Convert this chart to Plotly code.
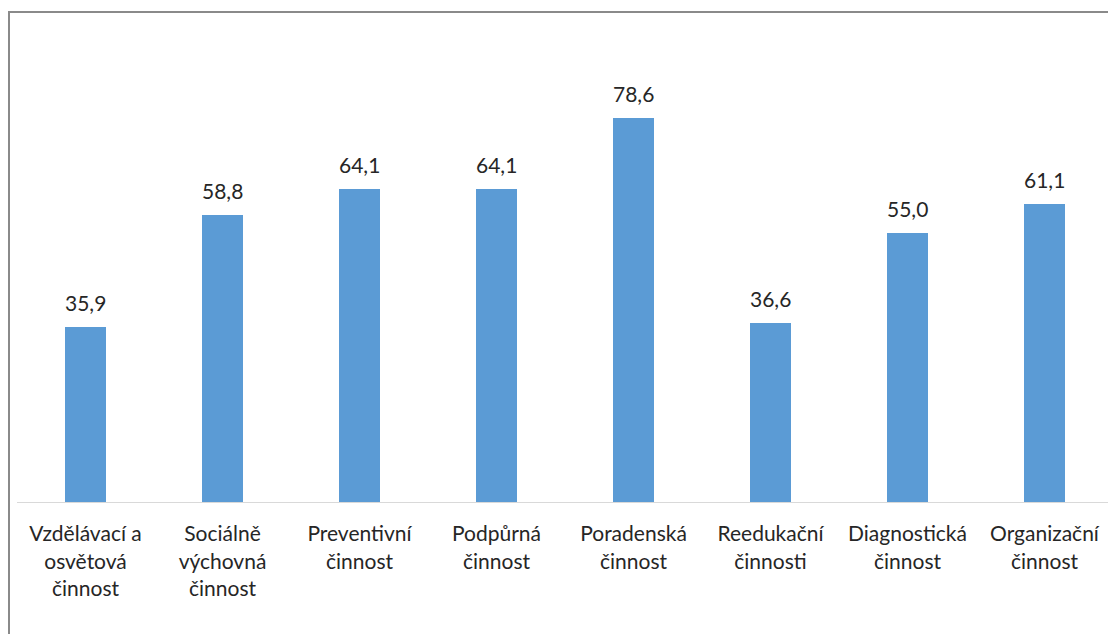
import plotly.graph_objects as go

categories = [
    "Vzdělávací a<br>osvětová<br>činnost",
    "Sociálně<br>výchovná<br>činnost",
    "Preventivní<br>činnost",
    "Podpůrná<br>činnost",
    "Poradenská<br>činnost",
    "Reedukační<br>činnosti",
    "Diagnostická<br>činnost",
    "Organizační<br>činnost",
]
values = [35.9, 58.8, 64.1, 64.1, 78.6, 36.6, 55.0, 61.1]

W, H = 1108, 634
ML, MR, MT, MB = 17, 0, 20, 132
PW, PH = W - ML - MR, H - MT - MB
PX_PER_CAT = 137.0
PX_PER_UNIT = 4.885

FONT = "Lato"
TXT = "#262626"

fig = go.Figure()
fig.add_trace(go.Bar(
    x=list(range(len(categories))),
    y=values,
    marker=dict(color="#5B9BD5", line=dict(width=0)),
    width=0.306,
    hoverinfo="skip",
))

for i, v in enumerate(values):
    fig.add_annotation(
        x=i, y=v, text=f"{v:.1f}".replace(".", ","),
        showarrow=False, yanchor="bottom", yshift=10,
        font=dict(family=FONT, size=21, color=TXT),
    )

def px2paper_x(px):
    return (px - ML) / PW

def px2paper_y(py):
    return (H - MB - py) / PH

border_color = "#8A8A8A"
fig.add_shape(type="line", xref="paper", yref="paper",
              x0=px2paper_x(9), x1=px2paper_x(9),
              y0=px2paper_y(H + 5), y1=px2paper_y(11),
              line=dict(color=border_color, width=2))
fig.add_shape(type="line", xref="paper", yref="paper",
              x0=px2paper_x(8), x1=px2paper_x(W + 5),
              y0=px2paper_y(12), y1=px2paper_y(12),
              line=dict(color=border_color, width=2))

fig.update_layout(
    width=W, height=H,
    margin=dict(l=ML, r=MR, t=MT, b=MB),
    paper_bgcolor="white", plot_bgcolor="white",
    showlegend=False,
    separators=", ",
    bargap=0,
    xaxis=dict(
        tickmode="array",
        tickvals=list(range(len(categories))),
        ticktext=categories,
        range=[-0.5, -0.5 + PW / PX_PER_CAT],
        showgrid=False, zeroline=False,
        showline=True, linecolor="#D9D9D9", linewidth=1,
        ticks="", ticklabelstandoff=13,
        tickfont=dict(family=FONT, size=21, color=TXT),
        fixedrange=True,
    ),
    yaxis=dict(
        range=[0, PH / PX_PER_UNIT],
        showgrid=False, zeroline=False, showline=False,
        showticklabels=False, ticks="",
        fixedrange=True,
    ),
)

fig.write_html("out.html")
